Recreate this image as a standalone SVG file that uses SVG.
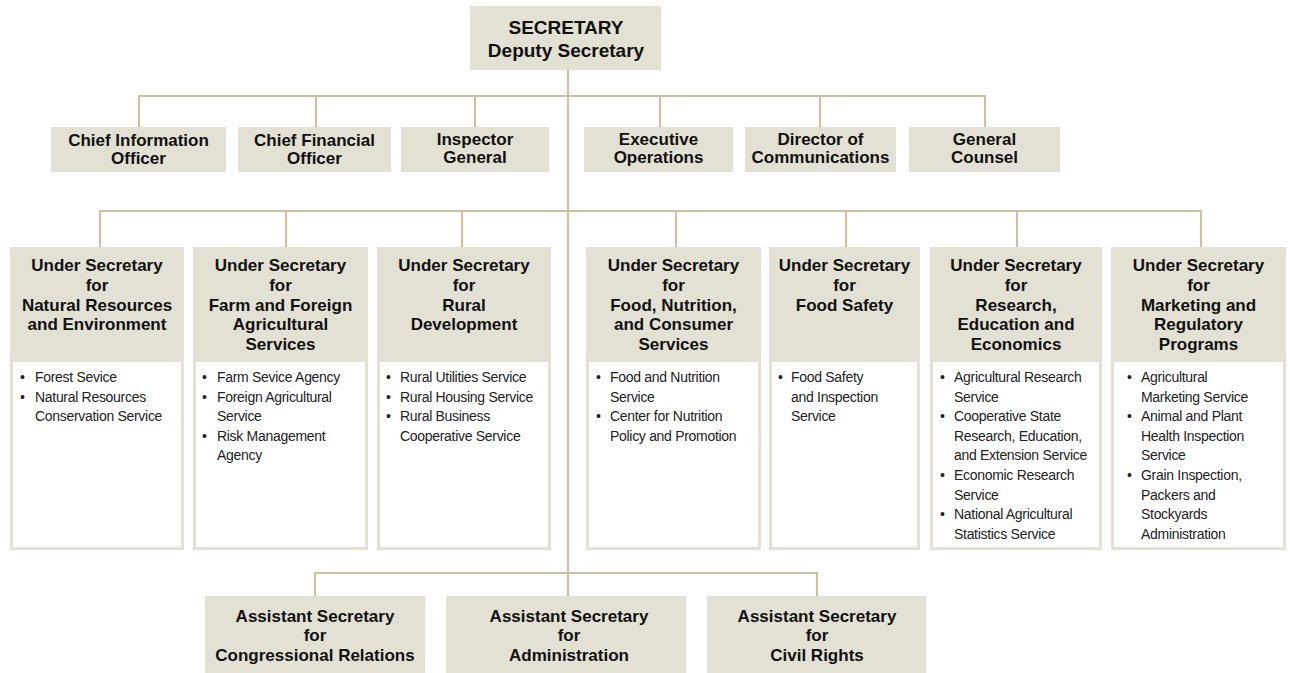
<svg xmlns="http://www.w3.org/2000/svg" width="1290" height="673" viewBox="0 0 1290 673">
<style>
.box{fill:#e3e1d3}
.body{fill:#ffffff}
.ln{stroke:#c8c3a0;stroke-width:2.2;fill:none}
.h{font-family:"Liberation Sans",Arial,sans-serif;font-weight:bold;font-size:17px;fill:#111;text-anchor:middle}
.s{font-size:19px}
.b{font-family:"Liberation Sans",Arial,sans-serif;font-size:14px;letter-spacing:-0.3px;fill:#222}
</style>
<rect width="1290" height="673" fill="#ffffff"/>
<g id="connectors">
<path class="ln" d="M568,69V596"/>
<path class="ln" d="M139,127V96H985V127M316,96V127M475,96V127M660,96V127M820,96V127"/>
<path class="ln" d="M100,247V211H1201V247M286,211V247M462,211V247M676,211V247M846,211V247M1017,211V247"/>
<path class="ln" d="M315,596V573H817V596"/>
</g>
<g id="secretary">
<rect class="box" x="470" y="6" width="191" height="64"/>
<text class="h s" x="566" y="34">SECRETARY</text>
<text class="h s" x="566" y="57">Deputy Secretary</text>
</g>
<g id="cio"><rect class="box" x="51" y="127" width="175" height="45"/><text class="h" x="138.5" y="146">Chief Information</text><text class="h" x="138.5" y="164">Officer</text></g>
<g id="cfo"><rect class="box" x="238" y="127" width="153" height="45"/><text class="h" x="314.5" y="146">Chief Financial</text><text class="h" x="314.5" y="164">Officer</text></g>
<g id="ig"><rect class="box" x="401" y="127" width="148" height="45"/><text class="h" x="475" y="145">Inspector</text><text class="h" x="475" y="163">General</text></g>
<g id="exec"><rect class="box" x="584" y="127" width="149" height="45"/><text class="h" x="658.5" y="145">Executive</text><text class="h" x="658.5" y="163">Operations</text></g>
<g id="comm"><rect class="box" x="745" y="127" width="151" height="45"/><text class="h" x="820.5" y="145">Director of</text><text class="h" x="820.5" y="163">Communications</text></g>
<g id="gc"><rect class="box" x="909" y="127" width="151" height="45"/><text class="h" x="984.5" y="145">General</text><text class="h" x="984.5" y="163">Counsel</text></g>

<g id="us-nre">
<rect class="box" x="10" y="247" width="174" height="303"/>
<rect class="body" x="13" y="362" width="168" height="185"/>
<text class="h" x="97" y="271">Under Secretary</text><text class="h" x="97" y="291">for</text><text class="h" x="97" y="311">Natural Resources</text><text class="h" x="97" y="330">and Environment</text>
<text class="b" x="20" y="382">•</text><text class="b" x="35" y="382">Forest Sevice</text>
<text class="b" x="20" y="402">•</text><text class="b" x="35" y="402">Natural Resources</text><text class="b" x="35" y="421">Conservation Service</text>
</g>
<g id="us-ffa">
<rect class="box" x="193" y="247" width="175" height="303"/>
<rect class="body" x="196" y="362" width="169" height="185"/>
<text class="h" x="280.5" y="271">Under Secretary</text><text class="h" x="280.5" y="291">for</text><text class="h" x="280.5" y="311">Farm and Foreign</text><text class="h" x="280.5" y="330">Agricultural</text><text class="h" x="280.5" y="350">Services</text>
<text class="b" x="202" y="382">•</text><text class="b" x="217" y="382">Farm Sevice Agency</text>
<text class="b" x="202" y="402">•</text><text class="b" x="217" y="402">Foreign Agricultural</text><text class="b" x="217" y="421">Service</text>
<text class="b" x="202" y="441">•</text><text class="b" x="217" y="441">Risk Management</text><text class="b" x="217" y="460">Agency</text>
</g>
<g id="us-rd">
<rect class="box" x="377" y="247" width="174" height="303"/>
<rect class="body" x="380" y="362" width="168" height="185"/>
<text class="h" x="464" y="271">Under Secretary</text><text class="h" x="464" y="291">for</text><text class="h" x="464" y="311">Rural</text><text class="h" x="464" y="330">Development</text>
<text class="b" x="386" y="382">•</text><text class="b" x="400" y="382">Rural Utilities Service</text>
<text class="b" x="386" y="402">•</text><text class="b" x="400" y="402">Rural Housing Service</text>
<text class="b" x="386" y="421">•</text><text class="b" x="400" y="421">Rural Business</text><text class="b" x="400" y="441">Cooperative Service</text>
</g>
<g id="us-fncs">
<rect class="box" x="586" y="247" width="175" height="303"/>
<rect class="body" x="589" y="362" width="169" height="185"/>
<text class="h" x="673.5" y="271">Under Secretary</text><text class="h" x="673.5" y="291">for</text><text class="h" x="673.5" y="311">Food, Nutrition,</text><text class="h" x="673.5" y="330">and Consumer</text><text class="h" x="673.5" y="350">Services</text>
<text class="b" x="596" y="382">•</text><text class="b" x="610" y="382">Food and Nutrition</text><text class="b" x="610" y="402">Service</text>
<text class="b" x="596" y="421">•</text><text class="b" x="610" y="421">Center for Nutrition</text><text class="b" x="610" y="441">Policy and Promotion</text>
</g>
<g id="us-fs">
<rect class="box" x="769" y="247" width="151" height="303"/>
<rect class="body" x="772" y="362" width="145" height="185"/>
<text class="h" x="844.5" y="271">Under Secretary</text><text class="h" x="844.5" y="291">for</text><text class="h" x="844.5" y="311">Food Safety</text>
<text class="b" x="778" y="382">•</text><text class="b" x="791" y="382">Food Safety</text><text class="b" x="791" y="402">and Inspection</text><text class="b" x="791" y="421">Service</text>
</g>
<g id="us-ree">
<rect class="box" x="930" y="247" width="172" height="303"/>
<rect class="body" x="933" y="362" width="166" height="185"/>
<text class="h" x="1016" y="271">Under Secretary</text><text class="h" x="1016" y="291">for</text><text class="h" x="1016" y="311">Research,</text><text class="h" x="1016" y="330">Education and</text><text class="h" x="1016" y="350">Economics</text>
<text class="b" x="940" y="382">•</text><text class="b" x="954" y="382">Agricultural Research</text><text class="b" x="954" y="402">Service</text>
<text class="b" x="940" y="421">•</text><text class="b" x="954" y="421">Cooperative State</text><text class="b" x="954" y="441">Research, Education,</text><text class="b" x="954" y="460">and Extension Service</text>
<text class="b" x="940" y="480">•</text><text class="b" x="954" y="480">Economic Research</text><text class="b" x="954" y="500">Service</text>
<text class="b" x="940" y="519">•</text><text class="b" x="954" y="519">National Agricultural</text><text class="b" x="954" y="539">Statistics Service</text>
</g>
<g id="us-mrp">
<rect class="box" x="1111" y="247" width="175" height="303"/>
<rect class="body" x="1114" y="362" width="169" height="185"/>
<text class="h" x="1198.5" y="271">Under Secretary</text><text class="h" x="1198.5" y="291">for</text><text class="h" x="1198.5" y="311">Marketing and</text><text class="h" x="1198.5" y="330">Regulatory</text><text class="h" x="1198.5" y="350">Programs</text>
<text class="b" x="1127" y="382">•</text><text class="b" x="1141" y="382">Agricultural</text><text class="b" x="1141" y="402">Marketing Service</text>
<text class="b" x="1127" y="421">•</text><text class="b" x="1141" y="421">Animal and Plant</text><text class="b" x="1141" y="441">Health Inspection</text><text class="b" x="1141" y="460">Service</text>
<text class="b" x="1127" y="480">•</text><text class="b" x="1141" y="480">Grain Inspection,</text><text class="b" x="1141" y="500">Packers and</text><text class="b" x="1141" y="519">Stockyards</text><text class="b" x="1141" y="539">Administration</text>
</g>

<g id="as-cr"><rect class="box" x="205" y="596" width="220" height="77"/><text class="h" x="315" y="622">Assistant Secretary</text><text class="h" x="315" y="641">for</text><text class="h" x="315" y="661">Congressional Relations</text></g>
<g id="as-adm"><rect class="box" x="446" y="596" width="240" height="77"/><text class="h" x="569" y="622">Assistant Secretary</text><text class="h" x="569" y="641">for</text><text class="h" x="569" y="661">Administration</text></g>
<g id="as-civ"><rect class="box" x="707" y="596" width="219" height="77"/><text class="h" x="817" y="622">Assistant Secretary</text><text class="h" x="817" y="641">for</text><text class="h" x="817" y="661">Civil Rights</text></g>
</svg>
